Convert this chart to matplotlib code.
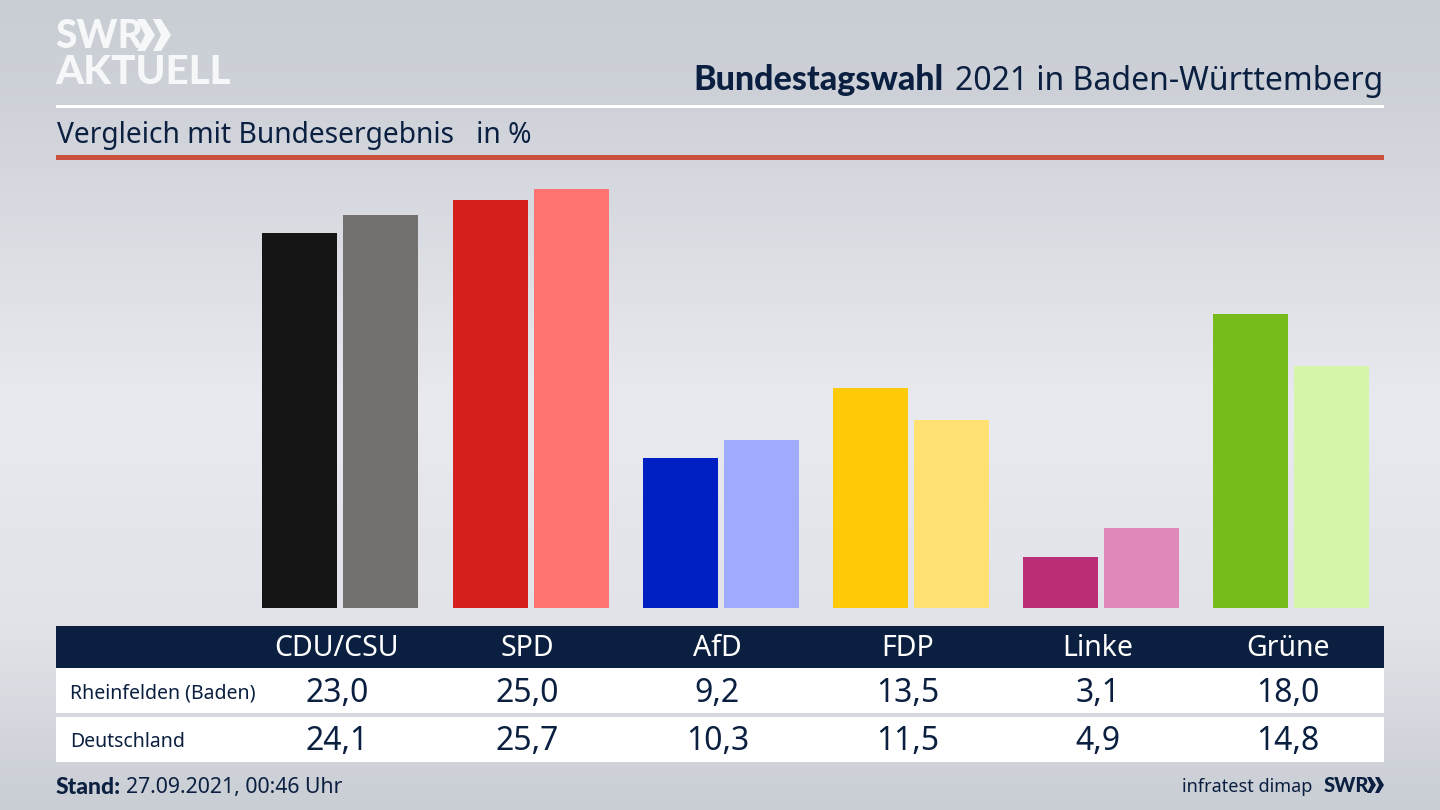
import numpy as np
import matplotlib
matplotlib.use('Agg')
import matplotlib.pyplot as plt
from matplotlib.patches import Rectangle, Polygon

parties = ['CDU/CSU', 'SPD', 'AfD', 'FDP', 'Linke', 'Grüne']
region_name = 'Rheinfelden (Baden)'
country_name = 'Deutschland'
region_values = [23.0, 25.0, 9.2, 13.5, 3.1, 18.0]
country_values = [24.1, 25.7, 10.3, 11.5, 4.9, 14.8]
region_colors = ['#141414', '#d61f1f', '#0020c4', '#ffcb08', '#bc2e78', '#76bc1a']
country_colors = ['#72716f', '#ff7370', '#9eabff', '#ffe070', '#e088b8', '#d5f5a8']

navy = '#0b2040'
logo_white = '#f6f7f8'
plt.rcParams['font.family'] = ['Noto Sans', 'DejaVu Sans']
bold_font = ['Lato', 'DejaVu Sans']


def fmt(v):
    return f'{v:.1f}'.replace('.', ',')


fig = plt.figure(figsize=(14.4, 8.1), dpi=100)

# background gradient, lightest a bit above the middle
bg = fig.add_axes([0, 0, 1, 1], zorder=0)
grad = np.interp(np.linspace(0, 1, 256), [0, 0.12, 0.5, 0.78, 1], [0, 0.15, 1, 0.75, 0])
grad = grad[:, None, None] * np.array([0xe9, 0xea, 0xef]) + (1 - grad[:, None, None]) * np.array([0xc9, 0xcd, 0xd4])
bg.imshow(grad / 255, aspect='auto', extent=[0, 1440, 810, 0])
bg.axis('off')

# bars: x in party index, y in percent
left, right, base, top = 245, 1385, 608, 170
ax = fig.add_axes([left / 1440, 1 - base / 810, (right - left) / 1440, (base - top) / 810], zorder=1)
step = 190.2
ax.set_xlim((left - 340.3) / step, (right - 340.3) / step)
ax.set_ylim(0, (base - top) / 16.32)
x = np.arange(len(parties))
ax.bar(x - 40.5 / step, region_values, width=75 / step, color=region_colors)
ax.bar(x + 40.5 / step, country_values, width=75 / step, color=country_colors)
ax.axis('off')

# everything else in pixel coordinates
ov = fig.add_axes([0, 0, 1, 1], zorder=2)
ov.set_xlim(0, 1440)
ov.set_ylim(810, 0)
ov.axis('off')
ov.patch.set_alpha(0)

ov.add_patch(Rectangle((56, 104.5), 1328, 3, color='white', lw=0))
ov.add_patch(Rectangle((56, 155), 1328, 5, color='#c8503c', lw=0))
ov.add_patch(Rectangle((56, 626), 1328, 42, color=navy, lw=0))
ov.add_patch(Rectangle((56, 668), 1328, 45, color='white', lw=0))
ov.add_patch(Rectangle((56, 717), 1328, 45, color='white', lw=0))

# logo
ov.text(55, 37, 'SWR', fontsize=28, family=bold_font, fontweight='black', color=logo_white, va='center', ha='left')
ov.text(55, 72, 'AKTUELL', fontsize=29, family=bold_font, fontweight='black', color=logo_white, va='center', ha='left')
for dx in (0, 16):
    ov.add_patch(Polygon([(137 + dx, 19), (145 + dx, 19), (155 + dx, 35), (145 + dx, 51), (137 + dx, 51), (145 + dx, 35)],
                         color=logo_white, lw=0))

# headings
t = ov.text(1383, 81, '2021 in Baden-Württemberg', fontsize=23, color=navy, va='center', ha='right')
fig.canvas.draw()
bb = t.get_window_extent().transformed(ov.transData.inverted())
ov.text(944, 80, 'Bundestagswahl', fontsize=24.5, family=bold_font, fontweight='black', color=navy, va='center', ha='right')
ov.text(57, 135, 'Vergleich mit Bundesergebnis   in %', fontsize=20.3, color=navy, va='center', ha='left')

# table
ov.text(70, 693, region_name, fontsize=14, color=navy, va='center', ha='left')
ov.text(70, 742, country_name, fontsize=14, color=navy, va='center', ha='left')
for i, party in enumerate(parties):
    cx = 337 + i * step
    ov.text(cx, 649, party, fontsize=20.5, color='white', va='center', ha='center')
    ov.text(cx, 693, fmt(region_values[i]), fontsize=23, color=navy, va='center', ha='center')
    ov.text(cx, 742, fmt(country_values[i]), fontsize=23, color=navy, va='center', ha='center')

# footer
s = ov.text(56, 787, 'Stand:', fontsize=16.5, family=bold_font, fontweight='black', color=navy, va='center', ha='left')
fig.canvas.draw()
ov.text(126, 788, '27.09.2021, 00:46 Uhr', fontsize=15.3, color=navy, va='center', ha='left')
ov.text(1312, 787, 'infratest dimap', fontsize=13, color=navy, va='center', ha='right')
ov.text(1324, 785, 'SWR', fontsize=14.5, family=bold_font, fontweight='black', color=navy, va='center', ha='left')
for dx in (0, 8):
    ov.add_patch(Polygon([(1367 + dx, 777), (1371 + dx, 777), (1376 + dx, 785), (1371 + dx, 793), (1367 + dx, 793), (1371 + dx, 785)],
                         color=navy, lw=0))

fig.savefig('out.png', dpi=100)
